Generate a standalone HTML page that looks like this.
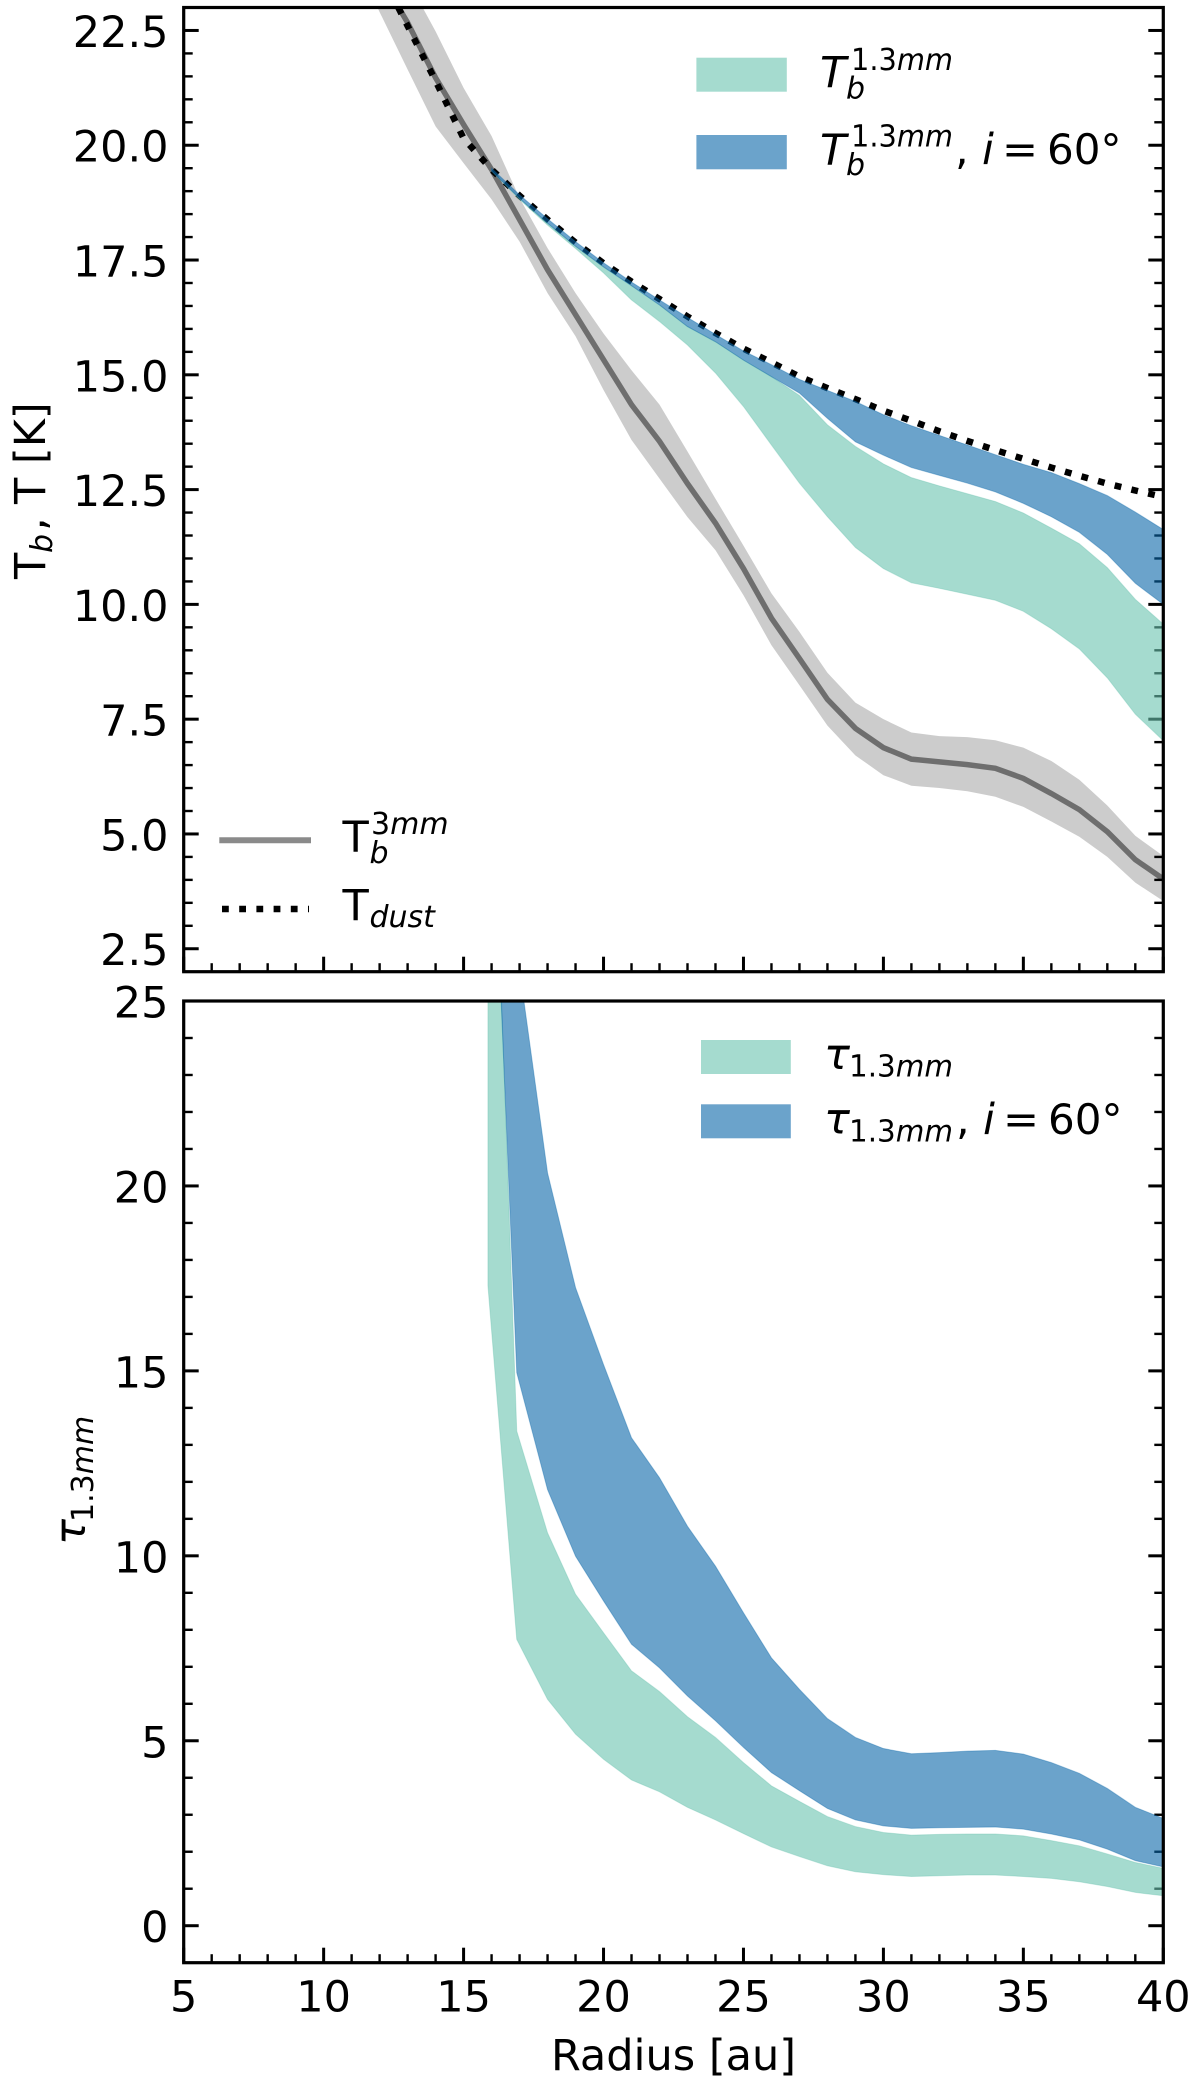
<!DOCTYPE html>
<html lang="en">
<head>
<meta charset="utf-8">
<title>Brightness temperature and optical depth profiles</title>
<style>
html,body{margin:0;padding:0;background:#fff;width:1200px;height:2084px;overflow:hidden}
svg{display:block}
text{font-family:"DejaVu Sans","Liberation Sans",sans-serif;fill:#000}
.it{font-style:oblique}
</style>
</head>
<body>
<svg id="chart" xmlns="http://www.w3.org/2000/svg" width="1200" height="2084" viewBox="0 0 1200 2084">
  <defs>
    <clipPath id="clip-top"><rect x="183.7" y="7.5" width="979.6" height="964.2"/></clipPath>
    <clipPath id="clip-bottom"><rect x="183.7" y="1001" width="979.6" height="961.7"/></clipPath>
  </defs>
  <g id="top-panel"></g>
  <g id="bottom-panel"></g>

  <g>
    <rect x="696.4" y="57.7" width="90.4" height="34" fill="rgb(105,195,175)" fill-opacity="0.6"/>
    <g>
      <text class="it" x="820" y="87" font-size="43">T</text>
      <text x="851" y="70" font-size="30" textLength="102" lengthAdjust="spacingAndGlyphs">1.3<tspan class="it">mm</tspan></text>
      <text class="it" x="846" y="98.3" font-size="30">b</text>
    </g>
    <rect x="696.4" y="135" width="90.4" height="34.3" fill="rgb(8,102,168)" fill-opacity="0.6"/>
    <g>
      <text class="it" x="820" y="164.5" font-size="43">T</text>
      <text x="851" y="146.7" font-size="30" textLength="102" lengthAdjust="spacingAndGlyphs">1.3<tspan class="it">mm</tspan></text>
      <text class="it" x="846" y="175" font-size="30">b</text>
      <text x="955" y="164" font-size="43">,</text>
      <text class="it" x="982" y="164" font-size="43">i</text>
      <text x="1002" y="164" font-size="43">=</text>
      <text x="1047" y="164" font-size="42">60°</text>
    </g>
  </g>

  <g>
    <line x1="219.3" x2="311" y1="840.3" y2="840.3" stroke="#000" stroke-opacity="0.46" stroke-width="6"/>
    <g>
      <text x="342.5" y="851.7" font-size="43">T</text>
      <text x="371" y="834" font-size="30">3<tspan class="it">mm</tspan></text>
      <text class="it" x="369.5" y="863" font-size="30">b</text>
    </g>
    <line x1="222" x2="309" y1="909" y2="909" stroke="#000" stroke-width="6.5" stroke-dasharray="6.8 10.4"/>
    <g>
      <text x="342.5" y="920" font-size="43">T</text>
      <text class="it" x="369.5" y="927" font-size="30">dust</text>
    </g>
  </g>

  <g>
    <rect x="701" y="1040" width="89.8" height="34" fill="rgb(105,195,175)" fill-opacity="0.6"/>
    <g>
      <text class="it" x="824" y="1069" font-size="43">τ</text>
      <text x="849" y="1076.7" font-size="30" textLength="104" lengthAdjust="spacingAndGlyphs">1.3<tspan class="it">mm</tspan></text>
    </g>
    <rect x="701" y="1104.3" width="89.8" height="34" fill="rgb(8,102,168)" fill-opacity="0.6"/>
    <g>
      <text class="it" x="824" y="1133.5" font-size="43">τ</text>
      <text x="849" y="1141.5" font-size="30" textLength="104" lengthAdjust="spacingAndGlyphs">1.3<tspan class="it">mm</tspan></text>
      <text x="956" y="1134" font-size="43">,</text>
      <text class="it" x="983" y="1134" font-size="43">i</text>
      <text x="1003" y="1134" font-size="43">=</text>
      <text x="1048" y="1134" font-size="42">60°</text>
    </g>
  </g>

  <g transform="translate(45,579) rotate(-90)">
    <text x="0" y="0" font-size="43">T</text>
    <text class="it" x="26" y="7" font-size="30">b</text>
    <text x="48" y="0" font-size="43">,</text>
    <text x="75" y="0" font-size="43">T [K]</text>
  </g>
  <g transform="translate(85,1545) rotate(-90)">
    <text class="it" x="0" y="0" font-size="43">τ</text>
    <text x="23" y="8" font-size="30">1.3<tspan class="it">mm</tspan></text>
  </g>
  <text x="673.5" y="2070" font-size="43" text-anchor="middle">Radius [au]</text>
</svg>
<script>
// Shared x values
const radiusLong = [11,12,13,14,15,16,17,18,19,20,21,22,23,24,25,26,27,28,29,30,31,32,33,34,35,36,37,38,39,40];
const radiusBand = [16,17,18,19,20,21,22,23,24,25,26,27,28,29,30,31,32,33,34,35,36,37,38,39,40];
const radiusTau = [15.87,16.9,18,19,20,21,22,23,24,25,26,27,28,29,30,31,32,33,34,35,36,37,38,39,40];

// Tb 3mm profile with uncertainty band [K]
const tb3mmMid = [25,23.7,22.67,21.47,20.45,19.47,18.38,17.29,16.31,15.33,14.35,13.55,12.63,11.77,10.78,9.7,8.82,7.93,7.3,6.88,6.63,6.57,6.51,6.43,6.21,5.88,5.53,5.05,4.44,4.02];
const tb3mmUpper = [26,24.8,23.6,22.48,21.25,20.2,18.85,17.76,16.78,15.9,15.1,14.35,13.33,12.3,11.28,10.24,9.4,8.51,7.86,7.5,7.21,7.13,7.11,7.04,6.88,6.59,6.18,5.62,4.96,4.52];
const tb3mmLower = [24.2,22.9,21.65,20.41,19.61,18.82,17.9,16.78,15.84,14.67,13.58,12.74,11.9,11.18,10.2,9.11,8.24,7.36,6.71,6.28,6.05,6,5.93,5.81,5.59,5.27,4.94,4.5,3.94,3.54];

// Dust temperature [K]
const tDust = [25,23.8,22.6,21.4,20.15,19.47,18.9,18.38,17.88,17.43,17.03,16.65,16.27,15.91,15.57,15.27,14.96,14.71,14.47,14.22,14,13.77,13.56,13.36,13.17,12.98,12.8,12.63,12.48,12.34];

// Tb 1.3mm bands [K]
const tbFaceUpper = [19.44,18.84,18.3,17.8,17.35,16.94,16.52,16.05,15.72,15.32,14.96,14.55,13.91,13.44,13.06,12.76,12.58,12.41,12.24,11.99,11.66,11.32,10.8,10.11,9.57];
const tbFaceLower = [19.44,18.82,18.26,17.75,17.22,16.63,16.16,15.65,15.04,14.31,13.47,12.64,11.91,11.24,10.78,10.47,10.35,10.22,10.09,9.85,9.47,9.03,8.4,7.61,7.03];
const tbInclUpper = [19.5,18.92,18.4,17.9,17.44,17.02,16.63,16.25,15.88,15.52,15.22,14.9,14.66,14.42,14.13,13.89,13.68,13.47,13.26,13.05,12.87,12.63,12.37,12.01,11.63];
const tbInclLower = [19.44,18.84,18.3,17.8,17.35,16.94,16.52,16.05,15.72,15.32,14.96,14.6,14.05,13.54,13.25,12.98,12.81,12.64,12.45,12.2,11.91,11.57,11.09,10.46,10];

// Optical depth bands
const tauFaceUpper = [35.5,13.37,10.62,8.96,7.92,6.89,6.33,5.65,5.09,4.41,3.78,3.36,2.95,2.68,2.52,2.45,2.47,2.48,2.48,2.43,2.3,2.16,1.94,1.71,1.55];
const tauFaceLower = [17.3,7.74,6.12,5.18,4.5,3.94,3.62,3.2,2.86,2.49,2.13,1.87,1.62,1.46,1.38,1.33,1.35,1.37,1.37,1.33,1.28,1.19,1.06,0.9,0.81];
const tauInclUpper = [35,26.4,20.35,17.25,15.17,13.19,12.11,10.8,9.72,8.46,7.24,6.39,5.6,5.09,4.79,4.65,4.68,4.72,4.74,4.64,4.41,4.12,3.71,3.2,2.9];
const tauInclLower = [33.5,14.95,11.79,9.99,8.78,7.61,6.97,6.21,5.54,4.82,4.14,3.65,3.17,2.86,2.7,2.63,2.65,2.66,2.67,2.61,2.48,2.32,2.07,1.76,1.59];

// Ticks
const xMajorTicks = [5,10,15,20,25,30,35,40];
const xMinorTicks = [6,7,8,9,11,12,13,14,16,17,18,19,21,22,23,24,26,27,28,29,31,32,33,34,36,37,38,39];
const tempMajorTicks = ["2.5","5.0","7.5","10.0","12.5","15.0","17.5","20.0","22.5"];
const tempMinorTicks = [3,3.5,4,4.5,5.5,6,6.5,7,8,8.5,9,9.5,10.5,11,11.5,12,13,13.5,14,14.5,15.5,16,16.5,17,18,18.5,19,19.5,20.5,21,21.5,22];
const tauMajorTicks = ["0","5","10","15","20","25"];
const tauMinorTicks = [1,2,3,4,6,7,8,9,11,12,13,14,16,17,18,19,21,22,23,24];

const NS = 'http://www.w3.org/2000/svg';
const plotLeft = 183.7, plotRight = 1163.3;
const xDomain = [5, 40];
const xScale = function (v) { return plotLeft + (v - xDomain[0]) / (xDomain[1] - xDomain[0]) * (plotRight - plotLeft); };
const makeY = function (d0, d1, top, bottom) {
  return function (v) { return bottom - (v - d0) / (d1 - d0) * (bottom - top); };
};
const yTemp = makeY(2, 23, 7.5, 971.7);
const yTau = makeY(-1, 25, 1001, 1962.7);

function svgEl(tag, parent) {
  const el = document.createElementNS(NS, tag);
  parent.appendChild(el);
  return el;
}
function linePath(xs, ys, yFn) {
  return xs.map(function (x, i) { return (i ? 'L' : 'M') + xScale(x).toFixed(2) + ' ' + yFn(ys[i]).toFixed(2); }).join(' ');
}
function bandPath(xs, up, low, yFn) {
  const a = xs.map(function (x, i) { return xScale(x).toFixed(2) + ' ' + yFn(up[i]).toFixed(2); });
  const b = xs.map(function (x, i) { return xScale(x).toFixed(2) + ' ' + yFn(low[i]).toFixed(2); }).reverse();
  return 'M' + a.concat(b).join(' L') + ' Z';
}
function drawBand(parent, name, xs, up, low, yFn, color, opacity, edge) {
  const el = svgEl('path', parent);
  
  
  el.setAttribute('d', bandPath(xs, up, low, yFn));
  el.setAttribute('fill', color);
  el.setAttribute('fill-opacity', opacity);
  if (edge) {
    el.setAttribute('stroke', color);
    el.setAttribute('stroke-opacity', opacity * 0.6);
    el.setAttribute('stroke-width', edge);
  }
  return el;
}
function drawTicks(parent, yFn, yTop, yBottom, majors, minors, showXLabels) {
  xMajorTicks.forEach(function (t) {
    const el = svgEl('line', parent);
    
    
    el.setAttribute('x1', xScale(t)); el.setAttribute('x2', xScale(t));
    el.setAttribute('y1', yBottom); el.setAttribute('y2', yBottom - 15);
    el.setAttribute('stroke', '#000'); el.setAttribute('stroke-width', 3);
    if (showXLabels) {
      const lab = svgEl('text', parent);
      
      
      lab.setAttribute('x', xScale(t)); lab.setAttribute('y', 2011.7);
      lab.setAttribute('font-size', 43); lab.setAttribute('text-anchor', 'middle');
      lab.textContent = String(t);
    }
  });
  xMinorTicks.forEach(function (t) {
    const el = svgEl('line', parent);
    
    
    el.setAttribute('x1', xScale(t)); el.setAttribute('x2', xScale(t));
    el.setAttribute('y1', yBottom); el.setAttribute('y2', yBottom - 8.5);
    el.setAttribute('stroke', '#000'); el.setAttribute('stroke-width', 2.4);
  });
  majors.forEach(function (t) {
    const y = yFn(parseFloat(t));
    [[plotLeft, 15], [plotRight, -15]].forEach(function (side) {
      const el = svgEl('line', parent);
      
      
      el.setAttribute('x1', side[0]); el.setAttribute('x2', side[0] + side[1]);
      el.setAttribute('y1', y); el.setAttribute('y2', y);
      el.setAttribute('stroke', '#000'); el.setAttribute('stroke-width', 3);
    });
    const lab = svgEl('text', parent);
    
    
    lab.setAttribute('x', 168.5); lab.setAttribute('y', y + 16.5);
    lab.setAttribute('font-size', 43); lab.setAttribute('text-anchor', 'end');
    lab.textContent = t;
  });
  minors.forEach(function (t) {
    const y = yFn(t);
    [[plotLeft, 9], [plotRight, -9]].forEach(function (side) {
      const el = svgEl('line', parent);
      
      
      el.setAttribute('x1', side[0]); el.setAttribute('x2', side[0] + side[1]);
      el.setAttribute('y1', y); el.setAttribute('y2', y);
      el.setAttribute('stroke', '#000'); el.setAttribute('stroke-width', 2.4);
    });
  });
}
function drawFrame(parent, name, yTop, yBottom) {
  const el = svgEl('rect', parent);
  
  
  el.setAttribute('x', plotLeft); el.setAttribute('y', yTop);
  el.setAttribute('width', plotRight - plotLeft); el.setAttribute('height', yBottom - yTop);
  el.setAttribute('fill', 'none'); el.setAttribute('stroke', '#000'); el.setAttribute('stroke-width', 3.2);
}

const TEAL = 'rgb(105,195,175)', BLUE = 'rgb(8,102,168)';

// Upper panel
const top_ = document.getElementById('top-panel');
drawTicks(top_, yTemp, 7.5, 971.7, tempMajorTicks, tempMinorTicks, false);
const topSeries = svgEl('g', top_);


topSeries.setAttribute('clip-path', 'url(#clip-top)');
drawBand(topSeries, 'tb-3mm-uncertainty-band', radiusLong, tb3mmUpper, tb3mmLower, yTemp, '#000', 0.2, 0);
const grayLine = svgEl('path', topSeries);


grayLine.setAttribute('d', linePath(radiusLong, tb3mmMid, yTemp));
grayLine.setAttribute('fill', 'none');
grayLine.setAttribute('stroke', '#000');
grayLine.setAttribute('stroke-opacity', 0.46);
grayLine.setAttribute('stroke-width', 5.5);
const dustLine = svgEl('path', topSeries);


dustLine.setAttribute('d', linePath(radiusLong, tDust, yTemp));
dustLine.setAttribute('fill', 'none');
dustLine.setAttribute('stroke', '#000');
dustLine.setAttribute('stroke-width', 6.5);
dustLine.setAttribute('stroke-dasharray', '6.8 10.4');
drawBand(topSeries, 'tb-1-3mm-band', radiusBand, tbFaceUpper, tbFaceLower, yTemp, TEAL, 0.6, 1);
drawBand(topSeries, 'tb-1-3mm-i60-band', radiusBand, tbInclUpper, tbInclLower, yTemp, BLUE, 0.6, 1);
drawFrame(top_, 'temperature-plot-frame', 7.5, 971.7);

// Lower panel
const bot_ = document.getElementById('bottom-panel');
drawTicks(bot_, yTau, 1001, 1962.7, tauMajorTicks, tauMinorTicks, true);
const botSeries = svgEl('g', bot_);


botSeries.setAttribute('clip-path', 'url(#clip-bottom)');
drawBand(botSeries, 'tau-1-3mm-band', radiusTau, tauFaceUpper, tauFaceLower, yTau, TEAL, 0.6, 1);
drawBand(botSeries, 'tau-1-3mm-i60-band', radiusTau, tauInclUpper, tauInclLower, yTau, BLUE, 0.6, 1);
drawFrame(bot_, 'optical-depth-plot-frame', 1001, 1962.7);
</script>
</body>
</html>
